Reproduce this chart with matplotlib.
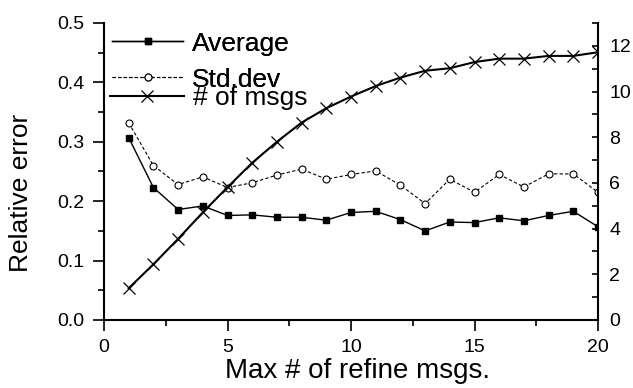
import matplotlib
matplotlib.use('Agg')
import matplotlib.pyplot as plt
from matplotlib.ticker import MultipleLocator, FormatStrFormatter

plt.rcParams['font.family'] = ['Liberation Sans', 'DejaVu Sans']

# max number of refine messages
refine_msgs = [1, 2, 3, 4, 5, 6, 7, 8, 9, 10, 11, 12, 13, 14, 15, 16, 17, 18, 19, 20]

# relative error, mean and standard deviation
avg_err = [0.307, 0.223, 0.186, 0.192, 0.176, 0.177, 0.173, 0.173, 0.168, 0.181,
           0.183, 0.169, 0.150, 0.165, 0.164, 0.172, 0.167, 0.176, 0.183, 0.157]
std_err = [0.332, 0.260, 0.228, 0.241, 0.223, 0.231, 0.244, 0.254, 0.237, 0.245,
           0.251, 0.227, 0.196, 0.237, 0.215, 0.245, 0.224, 0.246, 0.246, 0.215]

# messages actually sent
n_msgs = [1.39, 2.44, 3.55, 4.71, 5.81, 6.88, 7.80, 8.64, 9.27, 9.78,
          10.24, 10.61, 10.91, 11.02, 11.29, 11.44, 11.44, 11.56, 11.56, 11.72]

fig = plt.figure(figsize=(6.33, 3.88), dpi=100)
ax = fig.add_axes([104 / 633, 68 / 388, 494 / 633, 297 / 388])
ax2 = ax.twinx()

l_avg, = ax.plot(refine_msgs, avg_err, color='black', lw=1.0, marker='s',
                 markersize=5, markerfacecolor='black', label='Average')
l_std, = ax.plot(refine_msgs, std_err, color='black', lw=0.8, ls=(0, (3, 2)),
                 marker='o', markersize=5, markerfacecolor='white',
                 markeredgewidth=0.8, label='Std.dev')
l_msg, = ax2.plot(refine_msgs, n_msgs, color='black', lw=1.5, marker='x',
                  markersize=8.5, markeredgewidth=0.9, label='# of msgs')

ax.set_xlim(0, 20)
ax.set_ylim(0, 0.5)
ax2.set_ylim(0, 13)

ax.xaxis.set_major_locator(MultipleLocator(5))
ax.xaxis.set_minor_locator(MultipleLocator(2.5))
ax.yaxis.set_major_locator(MultipleLocator(0.1))
ax.yaxis.set_minor_locator(MultipleLocator(0.05))
ax.yaxis.set_major_formatter(FormatStrFormatter('%.1f'))
ax2.yaxis.set_major_locator(MultipleLocator(2))
ax2.yaxis.set_minor_locator(MultipleLocator(1))

for s in ['top', 'right']:
    ax.spines[s].set_visible(False)
for s in ['top', 'left', 'bottom']:
    ax2.spines[s].set_visible(False)
for s in ['left', 'bottom']:
    ax.spines[s].set_linewidth(1.5)
ax2.spines['right'].set_linewidth(1.5)

ax.tick_params(which='major', direction='out', length=8, width=1.2,
               labelsize=14, pad=6)
ax.tick_params(which='minor', direction='out', length=4.5, width=1.2)
ax2.tick_params(which='both', direction='in', length=4, width=1.2,
                labelsize=14, pad=8)

ax.set_xlabel('Max # of refine msgs.', fontsize=20)
ax.xaxis.set_label_coords(0.514, -0.195)
ax.xaxis.label.set_va('baseline')
ax.set_ylabel('Relative error', fontsize=19)
ax.yaxis.set_label_coords(-0.168, 0.429)
ax.yaxis.label.set_va('center')

leg1 = ax.legend(handles=[l_avg, l_std], loc='center left',
                 bbox_to_anchor=(0.016, 0.870), frameon=False, fontsize=19,
                 handlelength=2.7, handletextpad=0.34, borderpad=0,
                 borderaxespad=0, labelspacing=0.45)
ax.add_artist(leg1)
leg2 = ax2.legend(handles=[l_msg], loc='center left',
                  bbox_to_anchor=(0.012, 0.747), frameon=False, fontsize=19,
                  handlelength=2.8, handletextpad=0.34, borderpad=0,
                  borderaxespad=0)

fig.savefig('out.png', dpi=100)
